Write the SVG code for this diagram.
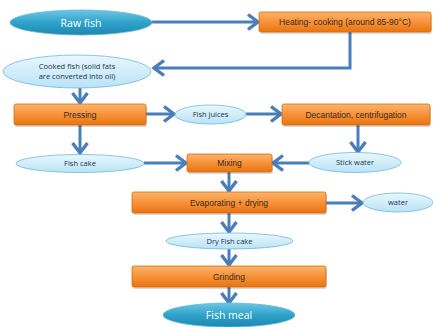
<svg xmlns="http://www.w3.org/2000/svg" width="433" height="327" viewBox="0 0 433 327">
<defs>
<linearGradient id="gOrange" x1="0" y1="0" x2="0" y2="1">
<stop offset="0" stop-color="#FBB46A"/>
<stop offset="0.5" stop-color="#F7923A"/>
<stop offset="1" stop-color="#E8740F"/>
</linearGradient>
<linearGradient id="gLight" x1="0" y1="0" x2="0" y2="1">
<stop offset="0" stop-color="#EAF7FD"/>
<stop offset="1" stop-color="#B9E3F6"/>
</linearGradient>
<linearGradient id="gDark" x1="0" y1="0" x2="0" y2="1">
<stop offset="0" stop-color="#6CC6E3"/>
<stop offset="0.5" stop-color="#2FA3CB"/>
<stop offset="1" stop-color="#1E86AE"/>
</linearGradient>
<marker id="arr" markerUnits="userSpaceOnUse" markerWidth="16" markerHeight="20" viewBox="0 0 16 20" refX="13" refY="10" orient="auto">
<path d="M3,2.5 L13,10 L3,17.5" fill="none" stroke="#4A7EBB" stroke-width="3.4" stroke-linejoin="miter"/>
</marker>
</defs>
<style>
.box{fill:url(#gOrange);stroke:#D9690C;stroke-width:0.8}
.sh{fill:#000;opacity:0.15}
.lt{fill:url(#gLight);stroke:#6FB8DC;stroke-width:0.8}
.dk{fill:url(#gDark);stroke:#5FB9D9;stroke-width:0.8}
.tb{font-family:"Liberation Sans",Arial,sans-serif;font-size:8.5px;fill:#3A2A1A;text-anchor:middle}
.te{font-family:"Open Sans","Noto Sans",sans-serif;font-size:7.5px;fill:#1A3350;text-anchor:middle}
.tw{font-family:"Open Sans","Noto Sans",sans-serif;font-size:10.5px;fill:#FFFFFF;text-anchor:middle}
.c{fill:none;stroke:#4A7EBB;stroke-width:3;marker-end:url(#arr)}
</style>

<g id="connectors">
<path class="c" d="M152,22 H258"/>
<path class="c" d="M350,32 V68 H154"/>
<path class="c" d="M80,88 V103"/>
<path class="c" d="M146,114 H174"/>
<path class="c" d="M246,114 H281"/>
<path class="c" d="M80,125 V153"/>
<path class="c" d="M358,125 V152"/>
<path class="c" d="M144,163 H186"/>
<path class="c" d="M309,163 H273"/>
<path class="c" d="M229,172 V191"/>
<path class="c" d="M326,203 H362"/>
<path class="c" d="M229,213 V232"/>
<path class="c" d="M229,249 V265"/>
<path class="c" d="M229,287 V303"/>
</g>

<g id="raw-fish">
<ellipse class="dk" cx="81" cy="22.5" rx="71" ry="12.5"/>
<text class="tw" x="81" y="26.5">Raw fish</text>
</g>

<g id="heating">
<rect class="sh" x="260" y="14" width="172" height="20" rx="2"/>
<rect class="box" x="259" y="12" width="172" height="20" rx="2"/>
<text class="tb" x="345" y="25">Heating- cooking (around 85-90°C)</text>
</g>

<g id="cooked-fish">
<ellipse class="lt" cx="77" cy="71.5" rx="74" ry="16.5"/>
<text class="te" x="77" y="69">Cooked fish (solid fats</text>
<text class="te" x="77" y="79">are converted  into oil)</text>
</g>

<g id="pressing">
<rect class="sh" x="15" y="106" width="132" height="21" rx="2"/>
<rect class="box" x="14" y="104" width="132" height="21" rx="2"/>
<text class="tb" x="80" y="117.5">Pressing</text>
</g>

<g id="fish-juices">
<ellipse class="lt" cx="210.5" cy="114.5" rx="35.5" ry="9.5"/>
<text class="te" x="210.5" y="117">Fish juices</text>
</g>

<g id="decantation">
<rect class="sh" x="283" y="106" width="148" height="21" rx="2"/>
<rect class="box" x="282" y="104" width="148" height="21" rx="2"/>
<text class="tb" x="356" y="117.5">Decantation, centrifugation</text>
</g>

<g id="fish-cake">
<ellipse class="lt" cx="80" cy="163.5" rx="64" ry="9"/>
<text class="te" x="80" y="166">Fish cake</text>
</g>

<g id="mixing">
<rect class="sh" x="188" y="156" width="85" height="18" rx="2"/>
<rect class="box" x="187" y="154" width="85" height="18" rx="2"/>
<text class="tb" x="229.5" y="166">Mixing</text>
</g>

<g id="stick-water">
<ellipse class="lt" cx="355" cy="162.5" rx="46" ry="10"/>
<text class="te" x="355" y="165">Stick water</text>
</g>

<g id="evaporating">
<rect class="sh" x="133" y="194" width="194" height="21" rx="2"/>
<rect class="box" x="132" y="192" width="194" height="21" rx="2"/>
<text class="tb" x="229" y="205.5">Evaporating + drying</text>
</g>

<g id="water">
<ellipse class="lt" cx="398" cy="202.5" rx="35" ry="9.5"/>
<text class="te" x="398" y="205">water</text>
</g>

<g id="dry-fish-cake">
<ellipse class="lt" cx="229.5" cy="241" rx="63.5" ry="8"/>
<text class="te" x="229.5" y="243.5">Dry Fish cake</text>
</g>

<g id="grinding">
<rect class="sh" x="133" y="268" width="194" height="21" rx="2"/>
<rect class="box" x="132" y="266" width="194" height="21" rx="2"/>
<text class="tb" x="229" y="279.5">Grinding</text>
</g>

<g id="fish-meal">
<ellipse class="dk" cx="229" cy="315" rx="66" ry="12"/>
<text class="tw" x="229" y="319">Fish meal</text>
</g>
</svg>
